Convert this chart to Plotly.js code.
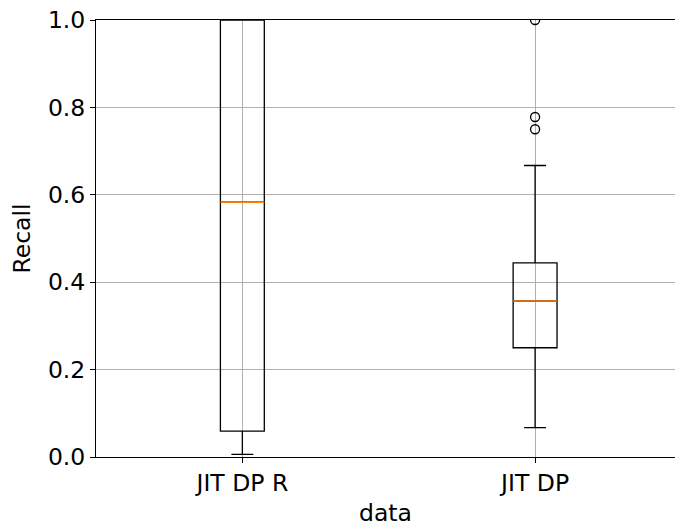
<!DOCTYPE html>
<html>
<head>
<meta charset="utf-8">
<script src="https://cdn.plot.ly/plotly-3.0.1.min.js"></script>
<style>html,body{margin:0;padding:0;background:#fff;}#chart{width:675px;height:529px;}</style>
</head>
<body>
<div id="chart"></div>
<script>
// Data
const categories = ["JIT DP R", "JIT DP"];
const positions = [1, 2];
const lowerWhisker = [0.006, 0.067];
const q1Values = [0.059, 0.25];
const medianValues = [0.583, 0.357];
const q3Values = [1.0, 0.444];
const upperWhisker = [1.0, 0.667];
const outlierGroup = [2, 2, 2];
const outlierValues = [0.75, 0.778, 1.0];

const boxWidth = 0.15;
const font = "'DejaVu Sans', sans-serif";
const fs = 23.5;

const traces = [];
traces.push({
  type: 'box',
  x: positions,
  q1: q1Values,
  median: medianValues,
  q3: q3Values,
  lowerfence: lowerWhisker,
  upperfence: upperWhisker,
  width: boxWidth,
  whiskerwidth: 0.5,
  fillcolor: 'rgba(0,0,0,0)',
  line: {color: '#000000', width: 1.3},
  boxpoints: false,
  hoverinfo: 'skip',
  showlegend: false
});
// orange median lines
const mx = [], my = [];
positions.forEach((p, i) => {
  mx.push(p - boxWidth / 2, p + boxWidth / 2, null);
  my.push(medianValues[i], medianValues[i], null);
});
traces.push({
  type: 'scatter', mode: 'lines', x: mx, y: my,
  line: {color: '#ff7f0e', width: 1.5}, showlegend: false, hoverinfo: 'skip'
});
traces.push({
  type: 'scatter', mode: 'markers', x: outlierGroup, y: outlierValues,
  marker: {symbol: 'circle-open', size: 9, color: '#000000', line: {width: 1.3, color: '#000000'}},
  showlegend: false, hoverinfo: 'skip'
});

const layout = {
  width: 675, height: 529,
  margin: {l: 96, r: 0, t: 20, b: 72},
  paper_bgcolor: '#ffffff', plot_bgcolor: '#ffffff',
  font: {family: font, color: '#000000', size: fs},
  showlegend: false,
  xaxis: {
    range: [0.5, 2.478],
    tickvals: positions, ticktext: categories,
    showgrid: true, gridcolor: '#b0b0b0', gridwidth: 1,
    zeroline: false,
    showline: true, mirror: true, linecolor: '#000000', linewidth: 1,
    ticks: 'outside', ticklen: 5, tickcolor: '#000000',
    tickfont: {family: font, size: fs},
    title: {text: 'data', font: {family: font, size: fs}, standoff: 8}
  },
  yaxis: {
    range: [0, 1],
    tickvals: [0, 0.2, 0.4, 0.6, 0.8, 1.0],
    ticktext: ['0.0', '0.2', '0.4', '0.6', '0.8', '1.0'],
    showgrid: true, gridcolor: '#b0b0b0', gridwidth: 1,
    zeroline: false,
    showline: true, mirror: false, linecolor: '#000000', linewidth: 1,
    ticks: 'outside', ticklen: 5, tickcolor: '#000000',
    tickfont: {family: font, size: fs},
    title: {text: 'Recall', font: {family: font, size: fs}, standoff: 10}
  }
};

Plotly.newPlot('chart', traces, layout, {displayModeBar: false, staticPlot: true});
</script>
</body>
</html>
